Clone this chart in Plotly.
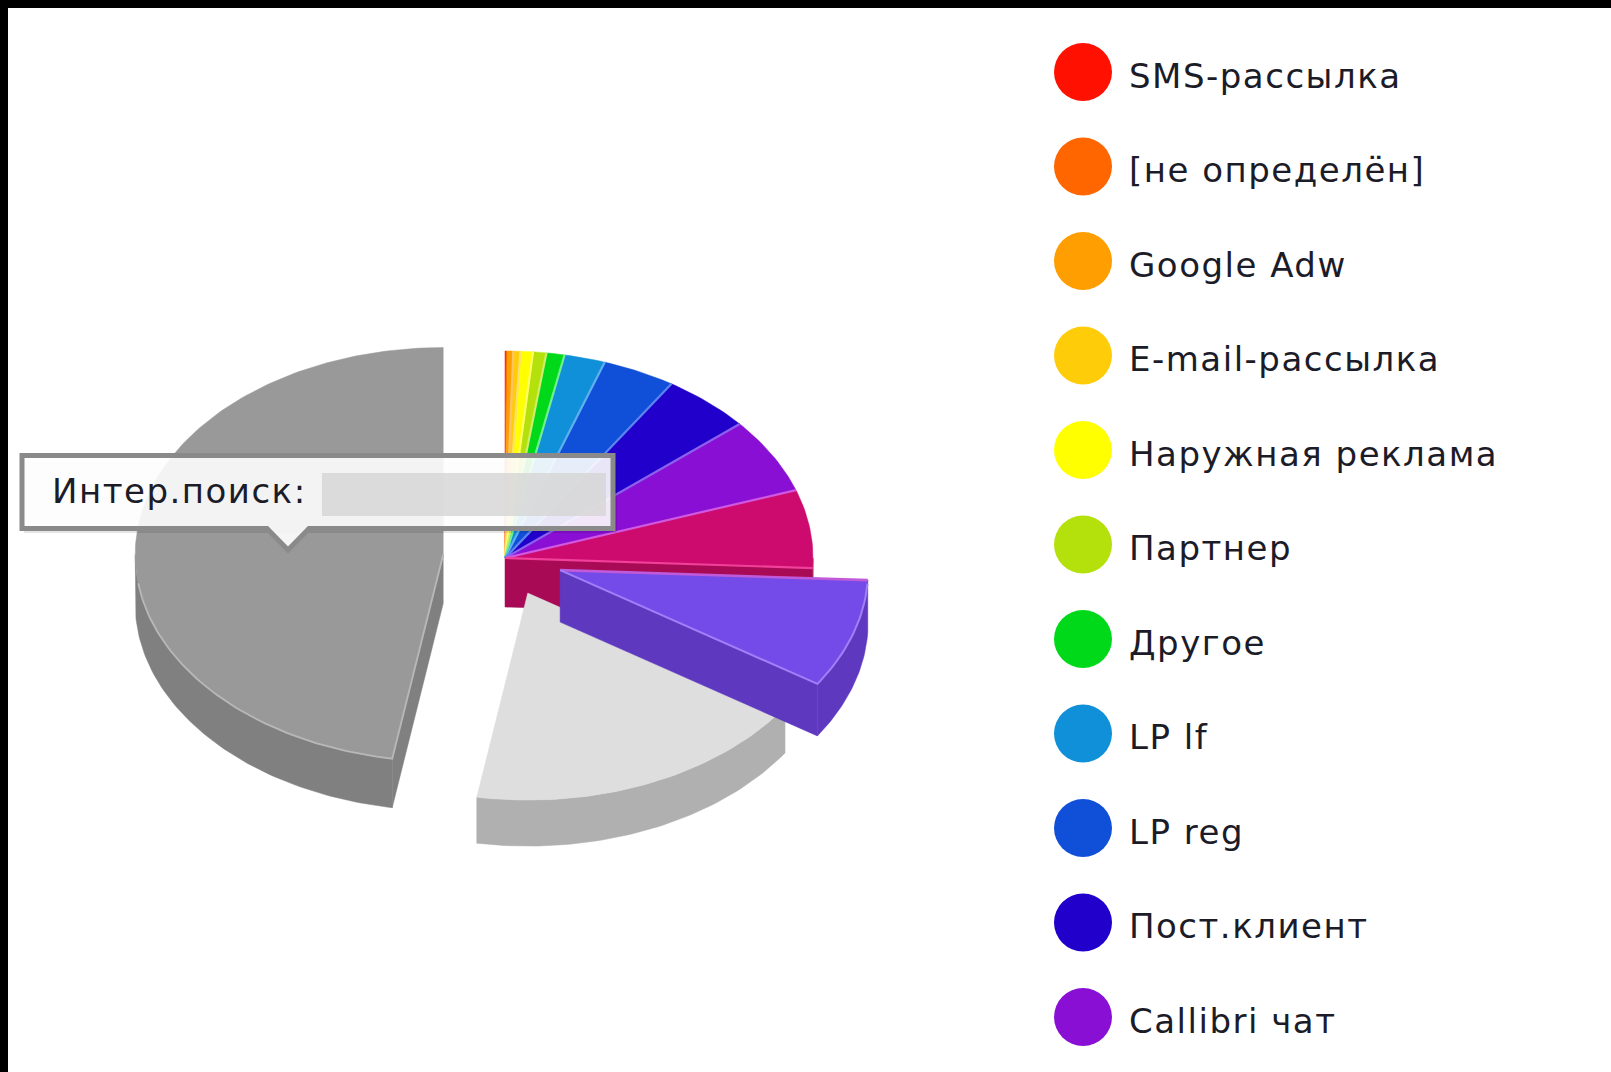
import math
import plotly.graph_objects as go

# ---------- data (share of the whole pie, percent, clockwise from 12 o'clock) ----------
CATEGORIES = ["SMS-рассылка", "[не определён]", "Google Adw", "E-mail-рассылка",
              "Наружная реклама", "Партнер", "Другое", "LP lf", "LP reg",
              "Пост.клиент", "Callibri чат", "", "", "", "Интер.поиск"]
VALUES = [0.05, 0.08, 0.3, 0.37, 0.65, 0.7, 0.95, 2.15, 3.85, 4.7, 5.9, 6.1, 8.5, 18.4, 47.4]
COLORS = ["#ff1000", "#ff6600", "#ff9e00", "#ffcc0a", "#ffff00", "#b4e00c", "#00d91a",
          "#0f90d8", "#1050d8", "#2200cc", "#8a0fd5", "#cd0a6e", "#744be8", "#dedede", "#999999"]
SIDE_COLORS = {11: "#a80a55", 12: "#5f38c0", 13: "#b0b0b0", 14: "#808080"}
EDGE_COLORS = {6: "#70f090", 7: "#60b0f0", 8: "#5a86f0", 9: "#8a62ee", 10: "#d058e0", 11: "#f0409a", 12: "#a080f8", 14: "#b8b8b8"}
PULL = {12: 58, 13: 57, 14: 62}
DEPTHS = {12: 52, 13: 46, 14: 49, 11: 49}
LEGEND_COUNT = 11
TOOLTIP_LABEL = "Интер.поиск:"

# ---------- pie projection ----------
CX, CY, RX, RY = 505, 558, 308, 207
FONT = "DejaVu Sans"
LEGEND_TEXT = "#1c1c28"


def pt(t, cx, cy, r=1.0, dz=0.0):
    a = math.radians(t)
    return cx + r * RX * math.sin(a), cy - r * RY * math.cos(a) + dz


def arc(t0, t1, cx, cy, dz=0.0):
    n = max(2, int(abs(t1 - t0) / 1.0) + 2)
    return [pt(t0 + (t1 - t0) * i / (n - 1), cx, cy, 1.0, dz) for i in range(n)]


def poly(points, color):
    xs = [p[0] for p in points] + [points[0][0]]
    ys = [p[1] for p in points] + [points[0][1]]
    return go.Scatter(x=xs, y=ys, mode="lines", fill="toself", fillcolor=color,
                      line=dict(color=color, width=0.5), hoverinfo="skip", showlegend=False)


def polyline(points, color, width=2.2):
    return go.Scatter(x=[p[0] for p in points], y=[p[1] for p in points], mode="lines",
                      line=dict(color=color, width=width), hoverinfo="skip", showlegend=False)


total = sum(VALUES)
bounds = [0.0]
for v in VALUES:
    bounds.append(bounds[-1] + v / total * 360)

traces = []


def center(i):
    mid = (bounds[i] + bounds[i + 1]) / 2
    p = PULL.get(i, 0)
    a = math.radians(mid)
    return CX + p * math.sin(a), CY - p * RY / RX * math.cos(a)


def add_slice(i):
    t0, t1 = bounds[i], bounds[i + 1]
    cx, cy = center(i)
    side = SIDE_COLORS.get(i)
    if side:
        d = DEPTHS[i]
        if 0 < t1 < 180:
            e = pt(t1, cx, cy)
            traces.append(poly([(cx, cy), e, (e[0], e[1] + d), (cx, cy + d)], side))
        if 180 < t0 < 270:
            e = pt(t0, cx, cy)
            traces.append(poly([(cx, cy), e, (e[0], e[1] + d), (cx, cy + d)], side))
        lo, hi = max(t0, 90), min(t1, 270)
        if hi > lo:
            traces.append(poly(arc(lo, hi, cx, cy) + arc(hi, lo, cx, cy, d), side))
    traces.append(poly([(cx, cy)] + arc(t0, t1, cx, cy), COLORS[i]))


for i in range(0, 12):
    add_slice(i)
for i in range(2, 12):
    t = bounds[i + 1]
    cx, cy = center(i)
    col = EDGE_COLORS.get(i)
    if col is None:
        r, g, b = int(COLORS[i][1:3], 16), int(COLORS[i][3:5], 16), int(COLORS[i][5:7], 16)
        col = "rgb(%d,%d,%d)" % (r + (255 - r) * .4, g + (255 - g) * .4, b + (255 - b) * .4)
    traces.append(polyline([(cx, cy), pt(t, cx, cy)], col))

add_slice(14)
cx, cy = center(14)
traces.append(polyline(arc(262, bounds[14], cx, cy) + [(cx, cy)], EDGE_COLORS[14], 1.8))
add_slice(13)
add_slice(12)
cx, cy = center(12)
traces.append(polyline([(cx, cy), pt(bounds[12], cx, cy)], "#c05ad8", 2.6))
traces.append(polyline([pt(bounds[12] + 1, cx, cy)] + arc(bounds[12] + 1, bounds[13], cx, cy)
                       + [(cx, cy)], EDGE_COLORS[12], 2))

# ---------- legend, drawn on the same axes ----------
LEG_X, LEG_Y0, LEG_DY, LEG_TEXT_X = 1083, 72, 94.5, 1129
leg_names = CATEGORIES[:LEGEND_COUNT]
leg_y = [LEG_Y0 + k * LEG_DY for k in range(LEGEND_COUNT)]
traces.append(go.Scatter(x=[LEG_X] * LEGEND_COUNT, y=leg_y, mode="markers",
                         marker=dict(size=58, color=COLORS[:LEGEND_COUNT], line=dict(width=0)),
                         hoverinfo="skip", showlegend=False))
traces.append(go.Scatter(x=[LEG_TEXT_X] * LEGEND_COUNT, y=[v + 7 for v in leg_y], mode="text",
                         text=leg_names, textposition="middle right",
                         textfont=dict(family=FONT, size=34, color=LEGEND_TEXT),
                         hoverinfo="skip", showlegend=False))

# ---------- tooltip chrome + frame ----------
shapes = [
    dict(type="path", layer="above", path="M24,461 L617,461 L617,533 L24,533 Z",
         fillcolor="rgba(0,0,0,0.10)", line=dict(width=0)),
    dict(type="path", layer="above",
         path="M22,455.5 L613,455.5 L613,528.5 L309,528.5 L288,550 L267,528.5 L22,528.5 Z",
         fillcolor="rgba(255,255,255,0.9)", line=dict(color="#8a8a8a", width=5)),
    dict(type="rect", layer="above", x0=322, x1=606, y0=473, y1=516,
         fillcolor="rgba(214,214,214,0.82)", line=dict(width=0)),
    dict(type="rect", layer="above", x0=0, x1=1611, y0=0, y1=8, fillcolor="#000", line=dict(width=0)),
    dict(type="rect", layer="above", x0=0, x1=8, y0=0, y1=1072, fillcolor="#000", line=dict(width=0)),
]

fig = go.Figure(traces)
fig.update_layout(
    width=1611, height=1072, margin=dict(l=0, r=0, t=0, b=0), autosize=False,
    paper_bgcolor="white", plot_bgcolor="white", showlegend=False, shapes=shapes,
    xaxis=dict(range=[0, 1611], visible=False, fixedrange=True),
    yaxis=dict(range=[1072, 0], visible=False, fixedrange=True),
    annotations=[dict(x=50, y=491, xref="x", yref="y", xanchor="left", yanchor="middle",
                      align="left", text=TOOLTIP_LABEL, showarrow=False,
                      font=dict(family=FONT, size=34, color=LEGEND_TEXT))],
)
post = ("document.body.style.margin='0';document.body.style.overflow='hidden';"
        "var s=document.createElement('style');"
        "s.textContent='.textpoint text,.annotation-text{letter-spacing:1.5px}';"
        "document.head.appendChild(s);")
fig.write_html("out.html", config={"displayModeBar": False}, post_script=post)
